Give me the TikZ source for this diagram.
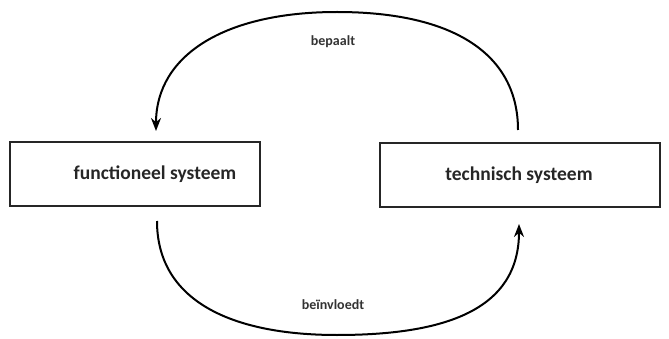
\documentclass[tikz,border=0pt]{standalone}
\usepackage{fontspec}
\setmainfont{Carlito}
\usetikzlibrary{arrows.meta}
\begin{document}
\begin{tikzpicture}[x=1pt,y=-1pt,
  sysbox/.style={draw=black!85, line width=1.3pt, minimum height=64pt, inner sep=0pt},
  flow/.style={draw=black, line width=2pt, -{Stealth[length=13pt,width=10pt]}},
  lbl/.style={font=\bfseries\fontsize{14}{16}\selectfont, text=black!80},
  boxtext/.style={font=\bfseries\fontsize{19.5}{22}\selectfont, text=black!85}]
\useasboundingbox (0,0) rectangle (669,339);
% the two systems
\node[sysbox, minimum width=250pt] (func) at (135,174) {};
\node[boxtext] (functext) at (155,174) {functioneel systeem};
\node[sysbox, minimum width=280pt] (tech) at (520,175) {};
\node[boxtext] (techtext) at (519,175) {technisch systeem};
% anchor points for the loops
\coordinate (ftop) at (156,131);
\coordinate (fbot) at (157,221);
\coordinate (ttop) at (518,130);
\coordinate (tbot) at (519,224);
% upper loop: technical determines functional
\draw[flow] (ttop) .. controls (518,55) and (455,12) .. (337,12)
  .. controls (225,12) and (156,55) .. (ftop);
\node[lbl] (bepaalt) at (333,42) {bepaalt};
% lower loop: functional influences technical
\draw[flow] (fbot) .. controls (157,300) and (230,335) .. (337,335)
  .. controls (445,335) and (519,310) .. (tbot);
\node[lbl] (beinvloedt) at (333,305) {beïnvloedt};
\end{tikzpicture}
\end{document}
